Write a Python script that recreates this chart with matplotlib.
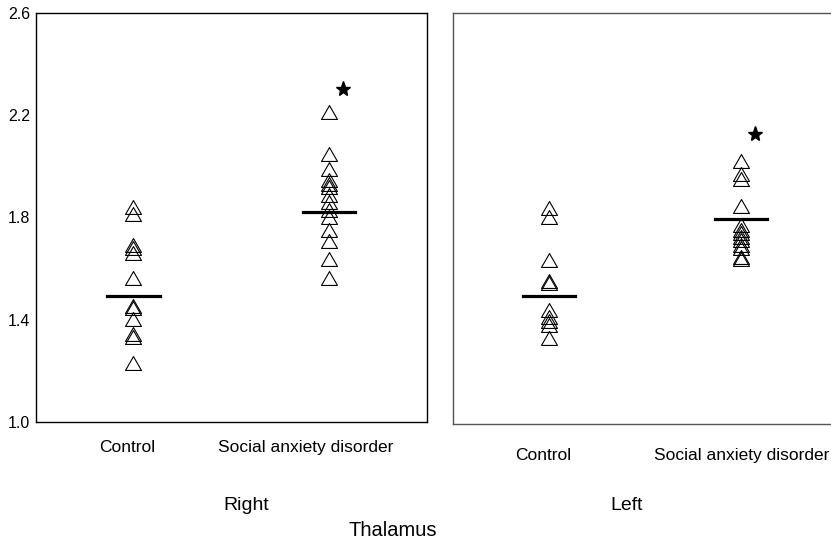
#!/usr/bin/env python3

import numpy as np
import matplotlib.pyplot as plt
from matplotlib.path import Path

plt.rcParams['font.family'] = ['Liberation Sans', 'DejaVu Sans']

groups = ['Control', 'Social anxiety disorder']

# right thalamus
right_control = [1.842, 1.813, 1.693, 1.68, 1.66, 1.563, 1.452, 1.445, 1.404, 1.345, 1.33, 1.229]
right_sad = [2.215, 2.05, 1.99, 1.946, 1.932, 1.92, 1.887, 1.861, 1.829, 1.802, 1.75, 1.708, 1.638, 1.564]
right_means = [1.491, 1.822]
right_star = 2.305

# left thalamus
left_control = [1.839, 1.804, 1.637, 1.556, 1.548, 1.444, 1.418, 1.399, 1.385, 1.336]
left_sad = [2.025, 1.973, 1.953, 1.847, 1.774, 1.755, 1.742, 1.729, 1.716, 1.696, 1.683, 1.649, 1.64]
left_means = [1.499, 1.796]
left_star = 2.127

yticks = [1.0, 1.4, 1.8, 2.2, 2.6]

# hollow triangle, a bit wider than tall
tri = Path([(-1, -0.87), (1, -0.87), (0, 0.87), (-1, -0.87)],
           [Path.MOVETO, Path.LINETO, Path.LINETO, Path.CLOSEPOLY])

fig = plt.figure(figsize=(8.31, 5.43), dpi=100)
ax1 = fig.add_axes([0.043, 0.2234, 0.4705, 0.7521])
ax2 = fig.add_axes([0.5455, 0.2192, 0.4621, 0.7574])

def panel(ax, ctrl, sad, means, star, pad, labelpos):
    for i, vals in enumerate([ctrl, sad]):
        ax.plot([i]*len(vals), vals, linestyle='none', marker=tri, markersize=11.5,
                markerfacecolor='none', markeredgecolor='black', markeredgewidth=0.8)
        ax.plot([i-0.135, i+0.135], [means[i], means[i]], color='black', lw=2.3)
    ax.plot([1.072], [star], marker='*', color='black', markersize=11, linestyle='none')
    ax.set_xlim(-0.5, 1.5)
    ax.set_ylim(1.0, 2.6)
    ax.set_xticks(labelpos)
    ax.set_xticklabels(groups, fontsize=12.5)
    ax.tick_params(axis='x', length=0, pad=pad)
    ax.tick_params(axis='y', length=0, pad=4, labelsize=11.5)

panel(ax1, right_control, right_sad, right_means, right_star, 13, [-0.03, 0.88])
ax1.set_yticks(yticks)
ax1.set_yticklabels(['%.1f' % t for t in yticks])
for s in ax1.spines.values():
    s.set_linewidth(1.0)

panel(ax2, left_control, left_sad, left_means, left_star, 17, [-0.033, 1.0])
ax2.set_yticks([])
for s in ax2.spines.values():
    s.set_color('#555555')
    s.set_linewidth(1.0)

fig.text(246/831, 1-505/543, 'Right', ha='center', va='center', fontsize=14)
fig.text(627/831, 1-505/543, 'Left', ha='center', va='center', fontsize=14)
fig.text(393/831, 1-530/543, 'Thalamus', ha='center', va='center', fontsize=14.5)

fig.savefig('out.png', dpi=100)
